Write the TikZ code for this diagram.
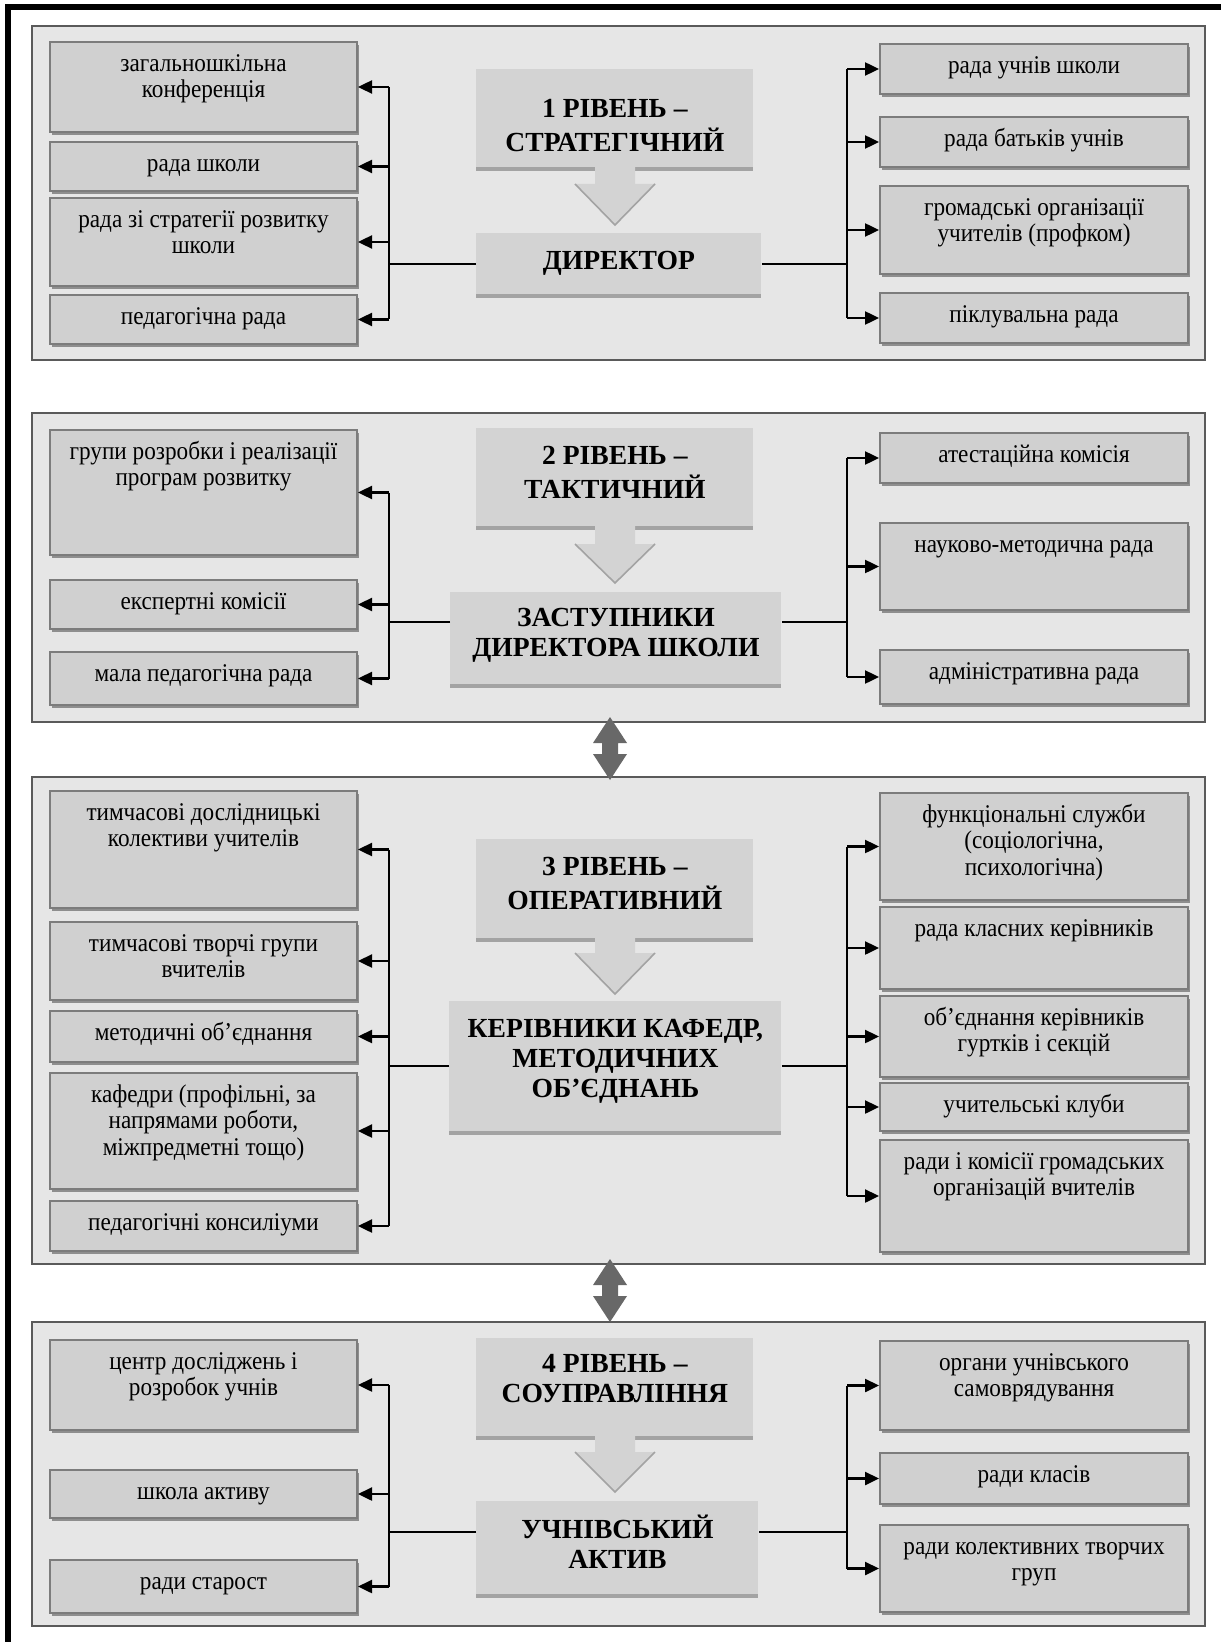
\documentclass[tikz,border=0pt]{standalone}
\usepackage{fontspec}
\setmainfont{Liberation Serif}
\newfontfamily\itemfont{Liberation Serif}[FakeStretch=0.91]
\usetikzlibrary{arrows.meta,calc,shadows}

\definecolor{panelfill}{HTML}{E6E6E6}
\definecolor{paneldraw}{HTML}{5A5A5A}
\definecolor{boxfill}{HTML}{D0D0D0}
\definecolor{boxdraw}{HTML}{7C7C7C}
\definecolor{boxshade}{HTML}{8E8E8E}
\definecolor{headfill}{HTML}{D3D3D3}
\definecolor{headshade}{HTML}{A3A3A3}
\definecolor{linkarrow}{HTML}{686868}

\tikzset{
  panel/.style={draw=paneldraw, fill=panelfill, line width=0.7pt},
  itembox/.style={draw=boxdraw, fill=boxfill, line width=1pt, inner sep=0pt,
    general shadow={fill=boxshade, shadow xshift=1pt, shadow yshift=-1.5pt}},
  itemtext/.style={inner sep=0pt, align=center, font=\itemfont\fontsize{12.75}{13.3}\selectfont},
  headbox/.style={fill=headfill, inner sep=0pt,
    general shadow={fill=headshade, shadow xshift=0pt, shadow yshift=-2pt}},
  headtext/.style={inner sep=0pt, align=center, font=\fontsize{13.8}{15}\selectfont\bfseries},
  bus/.style={line width=1.2pt},
  feed/.style={line width=1.2pt, -{Triangle[length=7pt,width=6.5pt]}},
  stem/.style={line width=1pt},
}

% item box: name, x1, y1, x2, y2, text
\newcommand\itemnode[6]{%
  \node[itembox, anchor=north west, minimum width={(#4-#2)*0.5pt},
        minimum height={(#5-#3)*0.5pt}] (#1) at (#2,#3) {};
  \node[itemtext, anchor=north] (#1-t) at ($(#1.north)+(0,11)$) {\strut #6};
}
% heading box: name, x1, y1, x2, y2, text offset, text
\newcommand\headnode[7]{%
  \node[headbox, anchor=north west, minimum width={(#4-#2)*0.5pt},
        minimum height={(#5-#3)*0.5pt}] (#1) at (#2,#3) {};
  \node[headtext, anchor=north] (#1-t) at ($(#1.north)+(0,#6)$) {\strut #7};
}
% block arrow between heading boxes: top, head base, tip
\newcommand\blockdown[3]{%
  \fill[headfill] (595,#1) -- (635,#1) -- (635,#2) -- (655,#2) -- (615,#3)
    -- (575,#2) -- (595,#2) -- cycle;
  \draw[headshade, line width=0.8pt] (575,#2) -- (615,#3) -- (655,#2);
}
% two-headed arrow between levels: top tip, upper head base, lower head base, bottom tip
\newcommand\linkarrow[4]{%
  \fill[linkarrow] (610,#1) -- (627,#2) -- (618,#2) -- (618,#3) -- (627,#3)
    -- (610,#4) -- (593,#3) -- (602,#3) -- (602,#2) -- (593,#2) -- cycle;
}

\begin{document}
\begin{tikzpicture}[x=0.5pt, y=-0.5pt]
\useasboundingbox (0,0) rectangle (1221,1642);
\fill[white] (0,0) rectangle (1221,1642);

% frame
\draw[line width=3pt] (8,1642) -- (8,7.5) -- (1221,7.5);

% level panels
\draw[panel] (32,26) rectangle (1205,360);
\draw[panel] (32,413) rectangle (1205,722);
\draw[panel] (32,777) rectangle (1205,1264);
\draw[panel] (32,1322) rectangle (1205,1626);

\linkarrow{717}{743}{754}{780}
\linkarrow{1259}{1285}{1296}{1322}

\coordinate (lbus) at (389,0);
\coordinate (rbus) at (847,0);

% ---------- level 1 ----------
\itemnode{p1l1}{49}{41}{356}{131}{загальношкільна\\конференція}
\itemnode{p1l2}{49}{141}{356}{190}{рада школи}
\itemnode{p1l3}{49}{197}{356}{285}{рада зі стратегії розвитку\\школи}
\itemnode{p1l4}{49}{294}{356}{343}{педагогічна рада}
\headnode{p1h}{476}{69}{753}{167}{27}{1 РІВЕНЬ –\\СТРАТЕГІЧНИЙ}
\blockdown{167}{184}{225}
\headnode{p1c}{476}{233}{761}{294}{15}{ДИРЕКТОР}
\itemnode{p1r1}{879}{43}{1187}{93}{рада учнів школи}
\itemnode{p1r2}{879}{116}{1187}{166}{рада батьків учнів}
\itemnode{p1r3}{879}{185}{1187}{273}{громадські організації\\учителів (профком)}
\itemnode{p1r4}{879}{292}{1187}{342}{піклувальна рада}

\draw[bus] (lbus |- p1l1.east) -- (lbus |- p1l4.east);
\foreach \n in {p1l1,p1l2,p1l3,p1l4} \draw[feed] (lbus |- \n.east) -- (\n.east);
\draw[stem] (p1c.west) -- (lbus |- p1c.west);
\draw[bus] (rbus |- p1r1.west) -- (rbus |- p1r4.west);
\foreach \n in {p1r1,p1r2,p1r3,p1r4} \draw[feed] (rbus |- \n.west) -- (\n.west);
\draw[stem] (p1c.east) -- (rbus |- p1c.east);

% ---------- level 2 ----------
\itemnode{p2l1}{49}{429}{356}{554}{групи розробки і реалізації\\програм розвитку}
\itemnode{p2l2}{49}{579}{356}{628}{експертні комісії}
\itemnode{p2l3}{49}{651}{356}{704}{мала педагогічна рада}
\headnode{p2h}{476}{428}{753}{526}{15}{2 РІВЕНЬ –\\ТАКТИЧНИЙ}
\blockdown{526}{544}{583}
\headnode{p2c}{450}{592}{781}{684}{13}{ЗАСТУПНИКИ\\ДИРЕКТОРА ШКОЛИ}
\itemnode{p2r1}{879}{432}{1187}{482}{атестаційна комісія}
\itemnode{p2r2}{879}{522}{1187}{609}{науково-методична рада}
\itemnode{p2r3}{879}{649}{1187}{703}{адміністративна рада}

\coordinate (p2mid) at (0,622);
\draw[bus] (lbus |- p2l1.east) -- (lbus |- p2l3.east);
\foreach \n in {p2l1,p2l2,p2l3} \draw[feed] (lbus |- \n.east) -- (\n.east);
\draw[stem] (p2c.west |- p2mid) -- (lbus |- p2mid);
\draw[bus] (rbus |- p2r1.west) -- (rbus |- p2r3.west);
\foreach \n in {p2r1,p2r2,p2r3} \draw[feed] (rbus |- \n.west) -- (\n.west);
\draw[stem] (p2c.east |- p2mid) -- (rbus |- p2mid);

% ---------- level 3 ----------
\itemnode{p3l1}{49}{790}{356}{907}{тимчасові дослідницькі\\колективи учителів}
\itemnode{p3l2}{49}{921}{356}{999}{тимчасові творчі групи\\вчителів}
\itemnode{p3l3}{49}{1010}{356}{1061}{методичні об’єднання}
\itemnode{p3l4}{49}{1072}{356}{1188}{кафедри (профільні, за\\напрямами роботи,\\міжпредметні тощо)}
\itemnode{p3l5}{49}{1200}{356}{1250}{педагогічні консиліуми}
\headnode{p3h}{476}{839}{753}{938}{15}{3 РІВЕНЬ –\\ОПЕРАТИВНИЙ}
\blockdown{938}{953}{994}
\headnode{p3c}{449}{1001}{781}{1131}{15}{КЕРІВНИКИ КАФЕДР,\\МЕТОДИЧНИХ\\ОБ’ЄДНАНЬ}
\itemnode{p3r1}{879}{792}{1187}{899}{функціональні служби\\(соціологічна,\\психологічна)}
\itemnode{p3r2}{879}{906}{1187}{988}{рада класних керівників}
\itemnode{p3r3}{879}{995}{1187}{1076}{об’єднання керівників\\гуртків і секцій}
\itemnode{p3r4}{879}{1082}{1187}{1130}{учительські клуби}
\itemnode{p3r5}{879}{1139}{1187}{1251}{ради і комісії громадських\\організацій вчителів}

\draw[bus] (lbus |- p3l1.east) -- (lbus |- p3l5.east);
\foreach \n in {p3l1,p3l2,p3l3,p3l4,p3l5} \draw[feed] (lbus |- \n.east) -- (\n.east);
\draw[stem] (p3c.west) -- (lbus |- p3c.west);
\draw[bus] (rbus |- p3r1.west) -- (rbus |- p3r5.west);
\foreach \n in {p3r1,p3r2,p3r3,p3r4,p3r5} \draw[feed] (rbus |- \n.west) -- (\n.west);
\draw[stem] (p3c.east) -- (rbus |- p3c.east);

% ---------- level 4 ----------
\itemnode{p4l1}{49}{1339}{356}{1429}{центр досліджень і\\розробок учнів}
\itemnode{p4l2}{49}{1469}{356}{1517}{школа активу}
\itemnode{p4l3}{49}{1559}{356}{1612}{ради старост}
\headnode{p4h}{476}{1338}{753}{1436}{13}{4 РІВЕНЬ –\\СОУПРАВЛІННЯ}
\blockdown{1436}{1452}{1492}
\headnode{p4c}{476}{1501}{758}{1594}{14}{УЧНІВСЬКИЙ\\АКТИВ}
\itemnode{p4r1}{879}{1340}{1187}{1429}{органи учнівського\\самоврядування}
\itemnode{p4r2}{879}{1452}{1187}{1503}{ради класів}
\itemnode{p4r3}{879}{1524}{1187}{1611}{ради колективних творчих\\груп}

\coordinate (p4mid) at (0,1532);
\draw[bus] (lbus |- p4l1.east) -- (lbus |- p4l3.east);
\foreach \n in {p4l1,p4l2,p4l3} \draw[feed] (lbus |- \n.east) -- (\n.east);
\draw[stem] (p4c.west |- p4mid) -- (lbus |- p4mid);
\draw[bus] (rbus |- p4r1.west) -- (rbus |- p4r3.west);
\foreach \n in {p4r1,p4r2,p4r3} \draw[feed] (rbus |- \n.west) -- (\n.west);
\draw[stem] (p4c.east |- p4mid) -- (rbus |- p4mid);
\end{tikzpicture}
\end{document}
